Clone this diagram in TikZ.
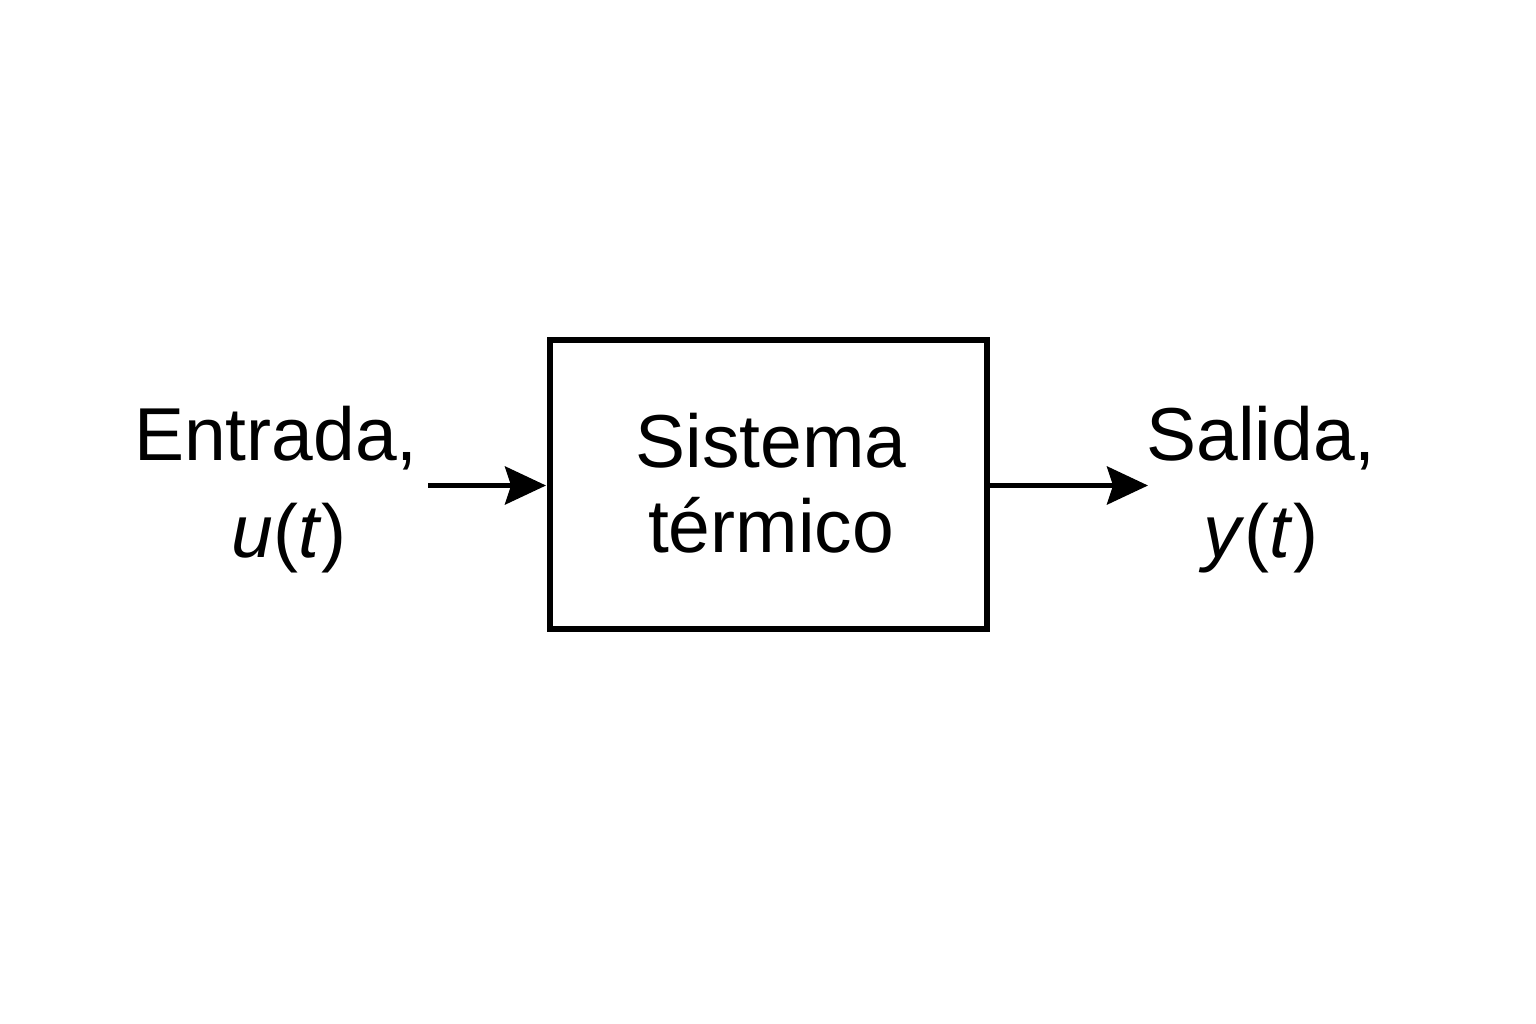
\documentclass[tikz,border=0pt]{standalone}
\usepackage{fontspec}
\setmainfont{Liberation Sans}
\usetikzlibrary{arrows.meta}
\begin{document}
\begin{tikzpicture}[x=1pt,y=-1pt,
  lbl/.style={font=\fontsize{75}{97}\selectfont, align=center, inner sep=0pt},
  boxlbl/.style={font=\fontsize{75}{85}\selectfont, align=center, inner sep=0pt},
  sysbox/.style={draw, line width=6pt, minimum width=437pt, minimum height=289pt, inner sep=0pt},
  flow/.style={line width=5pt, -{Stealth[length=41pt,width=38pt,inset=6pt]}}]
\useasboundingbox (0,0) rectangle (1536,1024);
\node[sysbox] (sys) at (768.5,484.5) {};
\node[boxlbl, anchor=base] (systxt) at (771,552) {Sistema\\térmico};
\node[lbl, anchor=base] (in) at (276,557) {Entrada,\\\hspace*{26pt}\textit{u}(\textit{t})};
\node[lbl, anchor=base] (out) at (1261,557) {Salida,\\\textit{y}(\textit{t})};
\coordinate (inend) at (428,485.5);
\coordinate (outstart) at (sys.east |- 0,485.5);
\coordinate (outend) at (1148,485.5);
\draw[flow] (inend) -- ([xshift=-1pt]sys.west |- inend);
\draw[flow] (outstart) -- (outend);
\end{tikzpicture}
\end{document}
